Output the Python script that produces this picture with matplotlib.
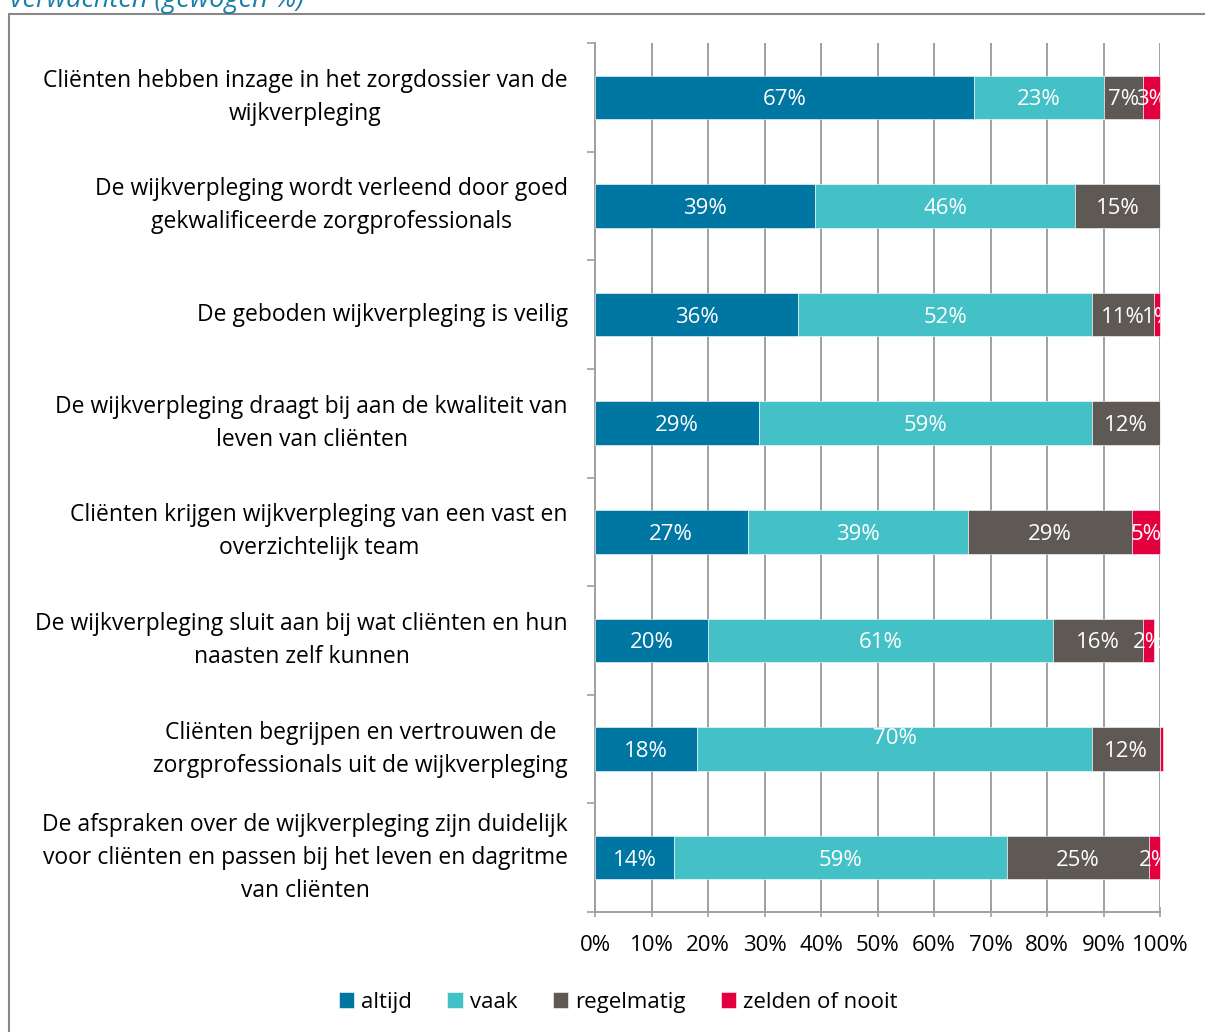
import numpy as np
import matplotlib
matplotlib.use("Agg")
import matplotlib.pyplot as plt
from matplotlib.patches import Rectangle

plt.rcParams['font.family'] = ['Open Sans', 'DejaVu Sans']

# data, top to bottom as in the chart
categories = [
    "Cliënten hebben inzage in het zorgdossier van de\nwijkverpleging",
    "De wijkverpleging wordt verleend door goed\ngekwalificeerde zorgprofessionals",
    "De geboden wijkverpleging is veilig",
    "De wijkverpleging draagt bij aan de kwaliteit van\nleven van cliënten",
    "Cliënten krijgen wijkverpleging van een vast en\noverzichtelijk team",
    "De wijkverpleging sluit aan bij wat cliënten en hun\nnaasten zelf kunnen",
    "Cliënten begrijpen en vertrouwen de\nzorgprofessionals uit de wijkverpleging",
    "De afspraken over de wijkverpleging zijn duidelijk\nvoor cliënten en passen bij het leven en dagritme\nvan cliënten",
]
altijd = [67, 39, 36, 29, 27, 20, 18, 14]
vaak = [23, 46, 52, 59, 39, 61, 70, 59]
regelmatig = [7, 15, 11, 12, 29, 16, 12, 25]
zelden = [3, 0, 1, 0, 5, 2, 0.5, 2]

series_names = ["altijd", "vaak", "regelmatig", "zelden of nooit"]
colors = ["#0076A2", "#43C1C6", "#5E5955", "#E4003E"]

series = [altijd, vaak, regelmatig, zelden]

fig = plt.figure(figsize=(12.05, 10.32), dpi=100)
ax = fig.add_axes([595 / 1205, 120 / 1032, 565 / 1205, 869 / 1032])

n = len(categories)
y = np.arange(n)
left = np.zeros(n)
for vals, name, col in zip(series, series_names, colors):
    vals = np.array(vals, dtype=float)
    bars = ax.barh(y, vals, left=left, height=0.4, color=col, label=name,
                   edgecolor="white", linewidth=0.4, zorder=3)
    for bar in bars:
        bar.set_clip_on(False)
    for i, v in enumerate(vals):
        if v >= 1:
            dy = -0.12 if (name == "vaak" and v == 70) else 0
            ax.text(left[i] + v / 2, i + dy, f"{int(round(v))}%", ha="center",
                    va="center_baseline", color="white", fontsize=16,
                    zorder=4, clip_on=True)
    left += vals

ax.set_xlim(0, 100)
ax.set_ylim(n - 0.5, -0.5)
ax.set_xticks(np.arange(0, 101, 10))
ax.set_xticklabels([f"{v}%" for v in range(0, 101, 10)], fontsize=16)
ax.xaxis.grid(True, color="#A0A0A0", linewidth=1.4, zorder=0)
ax.set_yticks(np.arange(-0.5, n, 1), minor=False)
ax.set_yticklabels([])
ax.tick_params(axis="y", length=6, width=1.2, color="#A0A0A0")
ax.tick_params(axis="x", length=7, width=1.2, color="#A0A0A0", pad=13,
               direction="inout")
for s in ["top", "right"]:
    ax.spines[s].set_visible(False)
for s in ["left", "bottom"]:
    ax.spines[s].set_color("#A0A0A0")
    ax.spines[s].set_linewidth(1.4)

for i, c in enumerate(categories):
    ax.text(-0.048, i, c, transform=ax.get_yaxis_transform(), ha="right",
            va="center", multialignment="center", fontsize=16.5,
            linespacing=1.5)

fig.legend(loc="center", bbox_to_anchor=(0.513, 0.029), ncol=4, frameon=False,
           fontsize=16, handlelength=0.7, handleheight=0.7, handletextpad=0.3,
           columnspacing=1.6)

# chart frame and cut-off caption
fig.patches.append(Rectangle((9 / 1205, -0.1), 1.2, 1 - 14 / 1032 + 0.1,
                             transform=fig.transFigure, fill=False,
                             edgecolor="#888888", linewidth=1.5))
fig.text(10 / 1205, 1 - 7 / 1032, "verwachten (gewogen %)", fontsize=19.5,
         style="italic", color="#1A7FA8", va="baseline", ha="left")

fig.savefig("out.png", dpi=100)
